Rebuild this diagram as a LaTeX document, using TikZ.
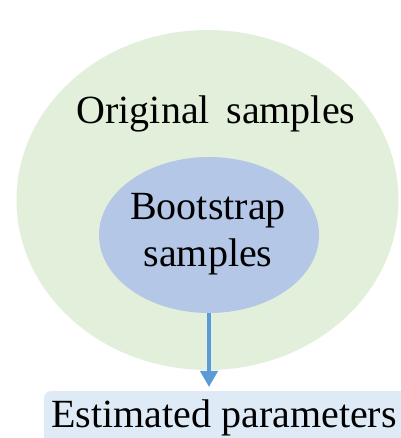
\documentclass[tikz,border=0pt]{standalone}
\usepackage{fontspec}
\setmainfont{Liberation Serif}
\usetikzlibrary{shapes.geometric,arrows.meta}
\definecolor{greenfill}{HTML}{E2EFDA}
\definecolor{bluefill}{HTML}{B4C7E7}
\definecolor{boxfill}{HTML}{DEEBF7}
\definecolor{arrowblue}{HTML}{5B9BD5}
\tikzset{
  bigtext/.style={font=\fontsize{40}{47}\selectfont, inner sep=0pt},
  shell/.style={ellipse, fill=greenfill, inner sep=0pt},
  core/.style={ellipse, fill=bluefill, inner sep=0pt},
  resbox/.style={rectangle, rounded corners=6pt, fill=boxfill, inner sep=0pt},
  flow/.style={arrowblue, line width=4pt, -{Triangle[width=17pt,length=16pt]}}
}
\begin{document}
\begin{tikzpicture}[x=1pt,y=1pt]
\useasboundingbox (0,0) rectangle (400,438);
\node[shell, minimum width=382pt, minimum height=340pt] (orig) at (207.5,238) {};
\node[bigtext, anchor=base] (origtext) at (216,314) {Original\, samples};
\node[core, minimum width=220pt, minimum height=156pt] (boot) at (209,203) {};
\node[bigtext, anchor=base, align=center] (boottext) at (208,218) {Bootstrap};
\node[bigtext, anchor=base] (samptext) at (208,171) {samples};
\node[resbox, minimum width=380pt, minimum height=60pt, anchor=north west] (est) at (44,47) {};
\node[bigtext, anchor=base] (esttext) at (224,10) {Estimated parameters};
\coordinate (arrowend) at (boot.south |- est.north);
\draw[flow] (boot.south) -- ([yshift=4pt]arrowend);
\end{tikzpicture}
\end{document}
